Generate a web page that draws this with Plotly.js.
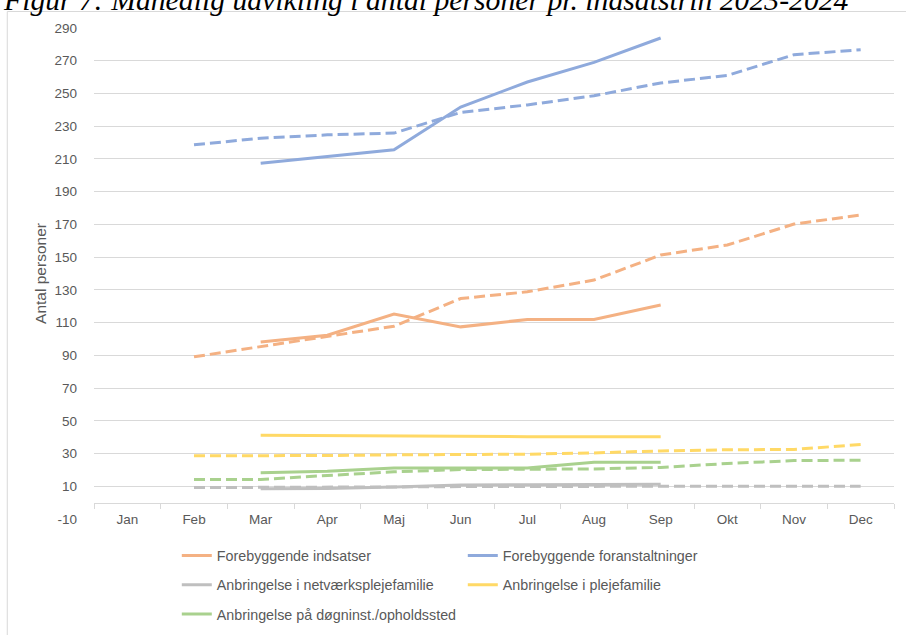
<!DOCTYPE html>
<html><head><meta charset="utf-8">
<script src="https://cdn.plot.ly/plotly-3.0.1.min.js"></script>
<style>html,body{margin:0;padding:0;background:#fff}#chart{width:906px;height:635px}</style>
</head><body><div id="chart"></div>
<script>
const months = ["Jan","Feb","Mar","Apr","Maj","Jun","Jul","Aug","Sep","Okt","Nov","Dec"];
const seriesNames = ["Forebyggende indsatser","Forebyggende foranstaltninger","Anbringelse i netværksplejefamilie","Anbringelse i plejefamilie","Anbringelse på døgninst./opholdssted"];
const seriesColors = ["#F4B183","#8FAADC","#BFBFBF","#FFD966","#A9D18E"];
// solid = 2024, dashed = 2023
const indsatser2024 = [null,null,98.2,102.3,115.2,107.4,111.9,111.9,120.7,null,null,null];
const indsatser2023 = [null,89.1,95.2,101.7,107.8,124.7,128.8,136.0,151.3,157.4,170.2,175.7];
const foranst2024 = [null,null,207.4,211.5,215.6,241.7,257.0,269.0,283.9,null,null,null];
const foranst2023 = [null,218.6,222.7,224.7,225.8,238.4,243.0,248.6,256.4,261.0,273.7,276.7];
const netvaerk2024 = [null,null,8.5,8.7,9.5,10.8,11.0,11.0,11.2,null,null,null];
const netvaerk2023 = [null,9.2,9.2,9.4,9.6,9.8,10.0,10.0,10.0,10.0,10.0,10.0];
const pleje2024 = [null,null,41.2,41.0,40.4,40.3,40.3,40.3,40.3,null,null,null];
const pleje2023 = [null,28.6,28.6,28.8,29.2,29.4,29.6,30.4,31.6,32.3,32.5,35.5];
const doegn2024 = [null,null,18.2,19.2,21.2,21.2,21.2,24.7,24.7,null,null,null];
const doegn2023 = [null,14.1,14.1,16.6,18.8,20.2,20.4,20.6,21.5,23.9,25.7,25.9];
const yTickVals = [-10,10,30,50,70,90,110,130,150,170,190,210,230,250,270,290];
const yTickText = ["-10","10","30","50","70","90","110","130","150","170","190","210","230","250","270","290"];
const titleText = "Figur 7: Månedlig udvikling i antal personer pr. indsatstrin 2023-2024";
const yTitle = "Antal personer";

const solid = [indsatser2024, foranst2024, netvaerk2024, pleje2024, doegn2024];
const dashed = [indsatser2023, foranst2023, netvaerk2023, pleje2023, doegn2023];
const legendIds = ["legend","legend2","legend3","legend4","legend5"];

const traces = [];
for (let i = 0; i < 5; i++) {
  traces.push({x: months, y: dashed[i], type: "scatter", mode: "lines", name: seriesNames[i] + " 2023",
    showlegend: false, line: {color: seriesColors[i], width: 3, dash: "11px,5px"}, hoverinfo: "skip"});
}
for (let i = 0; i < 5; i++) {
  traces.push({x: months, y: solid[i], type: "scatter", mode: "lines", name: seriesNames[i],
    legend: legendIds[i], line: {color: seriesColors[i], width: 3}});
}

const FONT = "Liberation Sans, Arial, sans-serif";
const GRAY = "#595959";
const legendPos = [[0.1035,-0.0747],[0.4610,-0.0747],[0.1035,-0.1344],[0.4610,-0.1344],[0.1035,-0.1941]];
const layout = {
  width: 906, height: 635,
  margin: {l: 94, r: 12, t: 28, b: 116, autoexpand: false},
  paper_bgcolor: "#fff", plot_bgcolor: "#fff",
  font: {family: FONT, color: GRAY, size: 13},
  xaxis: {type: "category", categoryorder: "array", categoryarray: months, range: [-0.5, 11.5],
    tickson: "boundaries", ticks: "outside", ticklen: 5, tickcolor: "#D9D9D9",
    showline: true, linecolor: "#D9D9D9", linewidth: 1, showgrid: false, ticklabelstandoff: 4,
    anchor: "free", position: 10/300, tickfont: {size: 13.5, color: GRAY}, fixedrange: true},
  yaxis: {range: [-10, 290], tickmode: "array", tickvals: yTickVals, ticktext: yTickText,
    showgrid: true, gridcolor: "#D9D9D9", gridwidth: 1,
    zeroline: false, showline: false, ticks: "", ticklabelstandoff: 16, tickfont: {size: 13.5, color: GRAY},
    title: {text: yTitle, font: {size: 15.5, color: GRAY}, standoff: 4}, fixedrange: true},
  annotations: [{text: "<i>" + titleText + "</i>", xref: "paper", yref: "paper", x: -0.116, y: 1.058,
    xanchor: "left", yanchor: "middle", showarrow: false,
    font: {family: "Liberation Serif, Times New Roman, serif", size: 29.7, color: "#000"}}],
  shapes: [
    {type: "line", xref: "paper", yref: "paper", x0: -0.1084, x1: -0.1084, y0: -0.3, y1: 1.0336, line: {color: "#D9D9D9", width: 1}},
    {type: "line", xref: "paper", yref: "paper", x0: -0.1084, x1: 1.05, y0: 1.0336, y1: 1.0336, line: {color: "#D9D9D9", width: 1}}
  ],
  showlegend: true
};
legendIds.forEach((id, i) => {
  layout[id] = {x: legendPos[i][0], y: legendPos[i][1], xanchor: "left", yanchor: "middle",
    orientation: "h", bgcolor: "rgba(0,0,0,0)", font: {family: FONT, size: 14.3, color: GRAY}, itemwidth: 30};
});
Plotly.newPlot("chart", traces, layout, {displayModeBar: false, staticPlot: true});
</script></body></html>
